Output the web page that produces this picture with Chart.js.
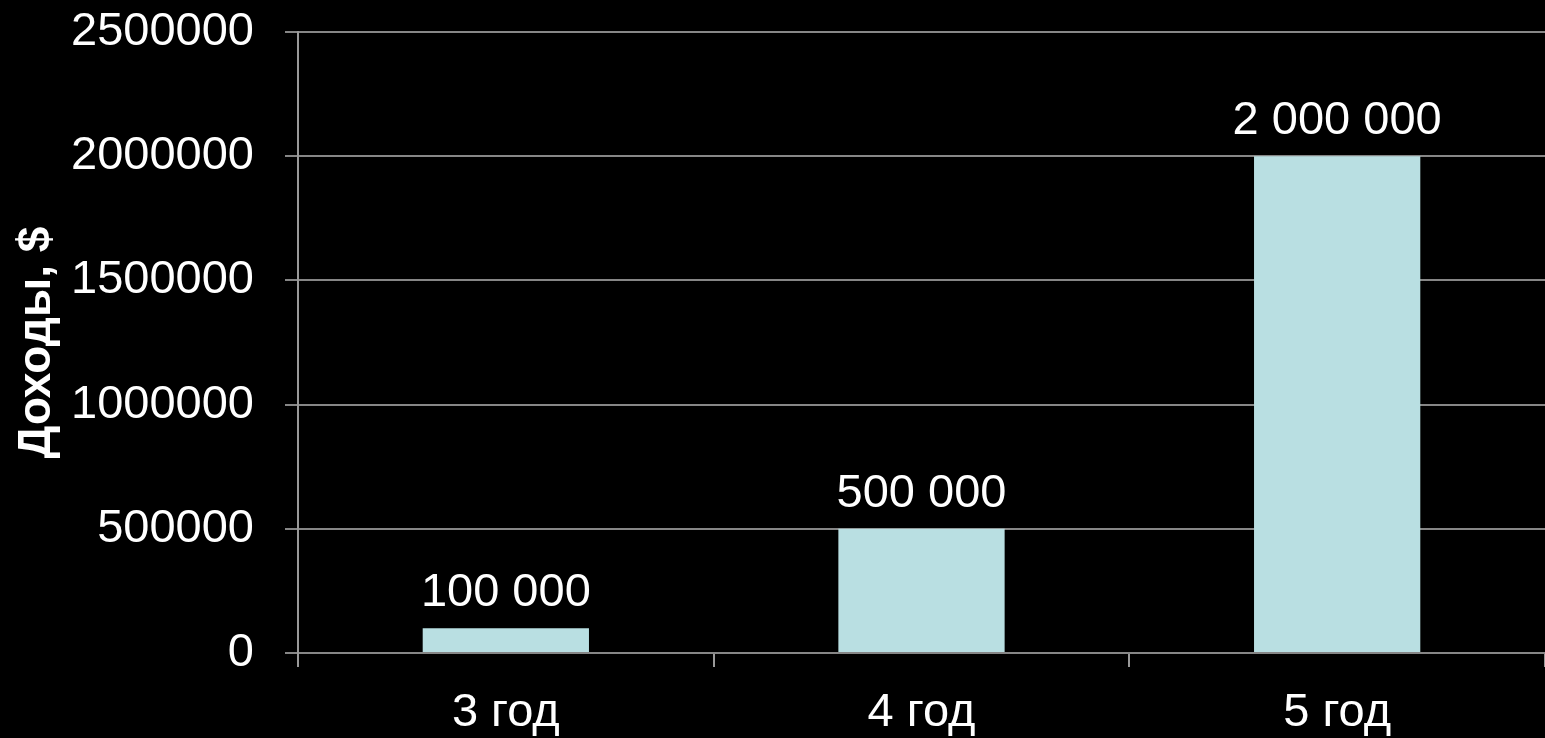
<!DOCTYPE html>
<html>
<head>
<meta charset="utf-8">
<script src="https://cdn.jsdelivr.net/npm/chart.js@4/dist/chart.umd.min.js"></script>
<style>
  html, body { margin: 0; padding: 0; background: #000; }
  canvas { display: block; }
</style>
</head>
<body>
<canvas id="income" width="1545" height="738"></canvas>
<script>
const years = ["3 год", "4 год", "5 год"];
const income = [100000, 500000, 2000000];
const yTicks = [0, 500000, 1000000, 1500000, 2000000, 2500000];

const fontName = "'Liberation Sans', Arial, sans-serif";

// 100000 -> "100 000"
function spaced(v) {
  return String(v).replace(/\B(?=(\d{3})+(?!\d))/g, " ");
}

// values above each bar
const barLabels = {
  id: "barLabels",
  afterDatasetsDraw(chart) {
    const ctx = chart.ctx;
    const meta = chart.getDatasetMeta(0);
    ctx.save();
    ctx.fillStyle = "#fff";
    ctx.font = "47px " + fontName;
    ctx.textAlign = "center";
    ctx.textBaseline = "alphabetic";
    meta.data.forEach((bar, i) => {
      ctx.fillText(spaced(income[i]), bar.x, bar.y - 22);
    });
    ctx.restore();
  }
};

const ctx1 = document.getElementById("income");

new Chart(ctx1, {
  type: "bar",
  data: {
    labels: years,
    datasets: [
      {
        label: "Доходы",
        data: income,
        backgroundColor: "#B9DFE2",
        borderWidth: 0,
        barPercentage: 0.4,
        categoryPercentage: 1
      }
    ]
  },
  plugins: [barLabels],
  options: {
    responsive: false,
    animation: false,
    layout: {
      padding: { top: 32, right: 0, bottom: 0, left: 0 }
    },
    plugins: {
      legend: { display: false },
      tooltip: { enabled: false }
    },
    scales: {
      x: {
        afterFit(scale) { scale.height = 85; },
        grid: {
          offset: true,
          drawOnChartArea: false,
          drawTicks: true,
          tickLength: 14,
          color: "#999",
          lineWidth: 2
        },
        border: { display: false },
        ticks: {
          color: "#fff",
          padding: 18,
          font: { family: fontName, size: 47 }
        }
      },
      y: {
        min: 0,
        max: 2500000,
        afterFit(scale) {
          scale.width = 298;
          scale.paddingTop = 0;
          scale.paddingBottom = 0;
        },
        afterBuildTicks(scale) {
          scale.ticks = yTicks.map(v => ({ value: v }));
        },
        grid: {
          color: "#868686",
          lineWidth: 2,
          drawTicks: true,
          tickLength: 13
        },
        border: { display: true, color: "#999", width: 2 },
        ticks: {
          color: "#fff",
          padding: 31,
          font: { family: fontName, size: 47 },
          callback: v => String(v)
        },
        title: {
          display: true,
          text: "Доходы, $",
          color: "#fff",
          padding: { top: 10, bottom: 0 },
          font: { family: fontName, size: 46, weight: "bold" }
        }
      }
    }
  }
});
</script>
</body>
</html>
